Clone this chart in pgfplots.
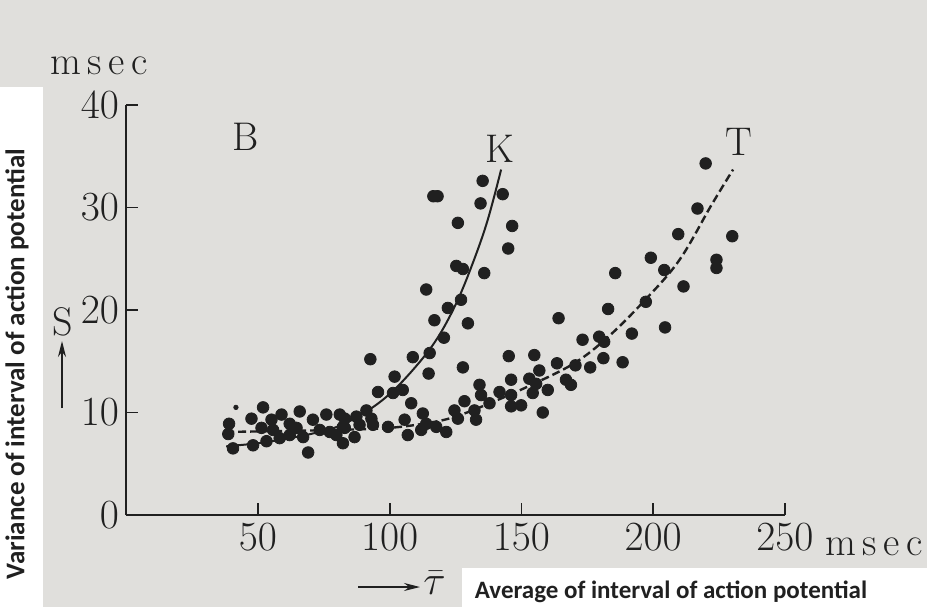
\documentclass[border=0pt]{standalone}
\usepackage{pgfplots}
\pgfplotsset{compat=1.18}
\usetikzlibrary{arrows.meta}
\usepackage{fontspec}
\newfontfamily\carlito{Carlito}
\definecolor{bg}{RGB}{224,223,220}
\definecolor{ink}{RGB}{32,32,32}

\pgfplotstableread{
x y
52.0 10.5
65.9 10.1
39.1 8.9
38.8 7.9
47.6 9.4
55.2 9.3
59.0 9.8
51.4 8.5
55.8 8.3
62.1 8.9
62.1 7.8
70.9 9.3
76.0 9.8
81.1 9.8
40.6 6.5
48.2 6.8
53.3 7.2
58.3 7.5
67.2 7.6
73.5 8.3
69.1 6.1
77.3 8.1
79.8 7.8
82.3 8.6
64.7 8.5
83.0 9.4
83.0 8.5
87.4 9.6
88.6 8.8
86.7 7.6
82.3 7.0
91.2 10.2
93.1 9.4
93.7 8.8
99.4 8.6
105.7 9.3
106.9 7.8
112.6 9.9
113.9 8.9
112.0 8.3
117.7 8.6
121.5 8.1
124.6 10.2
125.9 9.4
95.6 12.0
101.3 11.9
105.0 12.2
108.2 10.9
92.7 15.2
101.9 13.5
108.8 15.4
114.8 13.8
115.2 15.8
120.6 17.3
117.0 19.0
122.1 20.2
127.1 21.0
113.9 22.0
125.3 24.3
127.8 24.0
135.9 23.6
129.7 18.7
127.8 14.4
125.9 28.5
116.6 31.1
118.2 31.1
135.3 32.6
142.9 31.3
134.5 30.4
146.5 28.2
145.0 26.0
145.2 15.5
}\Kdata

\pgfplotstableread{
x y
128.4 11.1
132.2 10.2
132.8 9.3
134.1 12.7
134.7 11.7
137.9 10.9
141.7 12.0
146.1 13.2
146.1 11.7
146.1 10.6
149.9 10.7
153.0 13.3
155.6 12.8
154.3 11.9
160.0 12.2
158.1 10.0
156.8 14.1
166.9 13.2
168.8 12.7
154.9 15.6
163.5 14.8
170.5 14.6
176.1 14.4
181.1 15.3
188.4 14.9
164.1 19.2
173.2 17.1
179.5 17.4
181.4 16.9
191.9 17.7
182.9 20.1
197.2 20.8
204.5 18.3
185.6 23.6
204.2 23.9
211.5 22.3
199.1 25.1
224.0 24.9
224.0 24.1
209.5 27.4
230.0 27.2
216.8 29.9
219.9 34.3
}\Tdata

\begin{document}
\begin{tikzpicture}
\useasboundingbox (0pt,0pt) rectangle (463.5pt,303.5pt);
\fill[bg] (0pt,0pt) rectangle (463.5pt,303.5pt);
\fill[white] (0pt,0pt) rectangle (21.5pt,260pt);
\fill[white] (231pt,0pt) rectangle (463.5pt,19.5pt);

\begin{axis}[
  at={(63pt,46pt)}, anchor=south west,
  width=329.5pt, height=205pt, scale only axis,
  xmin=0, xmax=250, ymin=0, ymax=40,
  axis lines*=left,
  axis line style={ink, line width=1pt},
  xtick={50,100,150,200,250},
  ytick={0,10,20,30,40},
  tick align=inside,
  major tick length=6pt,
  tick style={ink, line width=0.9pt},
  ticklabel style={font=\fontsize{20}{24}\selectfont, text=ink},
  xticklabel style={yshift=-1pt},
  clip=false,
]
\addplot[ink, line width=1pt, smooth, tension=0.6] coordinates {
 (38,6.7) (50,7.0) (60,7.4) (70,7.9) (80,8.6) (90,9.9) (100,11.8)
 (110,14.5) (118,17.2) (125,20.5) (131,24.2) (137,28.6) (142.3,33.7)};
\addplot[ink, line width=1.2pt, dash pattern=on 4pt off 2pt, smooth, tension=0.6] coordinates {
 (38,8.1) (60,8.2) (80,8.3) (100,8.5) (115,9.0) (125,9.6) (138,10.9)
 (153,12.6) (170,14.8) (183,17.4) (197,21.0) (210,24.9) (222,30.2) (230.3,33.7)};
\addplot[only marks, mark=*, mark size=2.9pt, ink] table {\Kdata};
\addplot[only marks, mark=*, mark size=2.9pt, ink] table {\Tdata};
\addplot[only marks, mark=*, mark size=1.1pt, ink] coordinates {(41.7,10.5)};
\end{axis}

\begin{scope}[x=0.5pt, y=0.5pt, font=\fontsize{20}{24}\selectfont, text=ink]
\node[anchor=base west, inner sep=0] at (50,532) {m\,s\,e\,c};
\node[anchor=base west, inner sep=0] at (825,52) {m\,s\,e\,c};
\node[anchor=base, inner sep=0] at (246,457) {B};
\node[anchor=base, inner sep=0] at (500,445) {K};
\node[anchor=base, inner sep=0] at (739,452) {T};
\node[anchor=base, inner sep=0] at (63,272) {S};
\node[anchor=west, inner sep=0] at (423,24) {$\bar{\tau}$};
\draw[ink, line width=0.7pt, -{Stealth[length=8pt,width=4pt]}] (358,20) -- (420,20);
\draw[ink, line width=0.7pt, -{Stealth[length=8pt,width=4pt]}] (62,199) -- (62,266);
\node[rotate=90, font=\carlito\bfseries\fontsize{13.5}{15}\selectfont, inner sep=0] at (17,243) {Variance of interval of action potential};
\node[font=\carlito\bfseries\fontsize{12.5}{15}\selectfont, inner sep=0] at (671,15) {Average of interval of action potential};
\end{scope}
\end{tikzpicture}
\end{document}
